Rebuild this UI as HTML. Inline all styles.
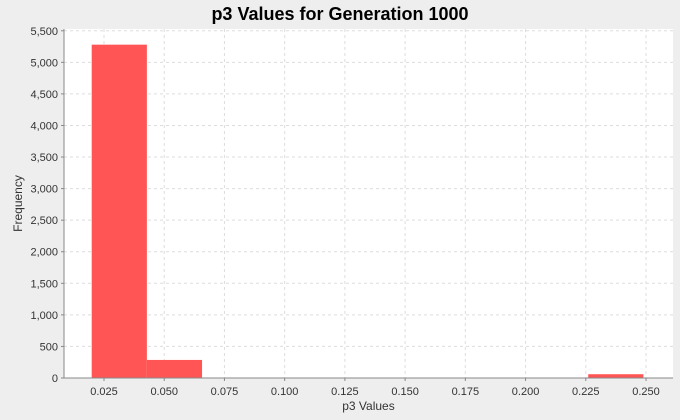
<!DOCTYPE html>
<html><head><meta charset="utf-8"><style>
body{margin:0;background:#eeeeee;}
svg{display:block;font-family:"Liberation Sans",sans-serif;}
</style></head><body>
<svg id="c" width="680" height="420"></svg>
<script>
const binStarts=[0.0199,0.0428,0.0657,0.0886,0.1115,0.1344,0.1573,0.1802,0.2031,0.2260];
const binWidth=0.0229;
const counts=[5280,286,0,0,0,0,0,0,0,60];
const xTicks=[0.025,0.050,0.075,0.100,0.125,0.150,0.175,0.200,0.225,0.250];
const yTicks=[0,500,1000,1500,2000,2500,3000,3500,4000,4500,5000,5500];
const L=64,R=673,T=29,B=378,xMin=0.0084,xMax=0.2612,yMax=5528;
const sx=v=>L+(v-xMin)/(xMax-xMin)*(R-L);
const sy=v=>B-v/yMax*(B-T);
const svg=document.getElementById('c');const NS='http://www.w3.org/2000/svg';
function mk(t,a,p){const e=document.createElementNS(NS,t);for(const k in a)e.setAttribute(k,a[k]);(p||svg).appendChild(e);return e;}
let e=mk('rect',{x:L,y:T,width:R-L,height:B-T,fill:'#fff'});


xTicks.forEach(t=>{const x=sx(t);
 let g=mk('line',{x1:x,x2:x,y1:T,y2:B,stroke:'#ddd','stroke-dasharray':'3,3'});
 
 
 mk('line',{x1:x,x2:x,y1:B,y2:B+3,stroke:'#888'});
 let l=mk('text',{x:x,y:B+17,'text-anchor':'middle','font-size':11,fill:'#333'});l.textContent=t.toFixed(3);
 
 
});
yTicks.forEach(t=>{const y=sy(t);
 let g=mk('line',{x1:L,x2:R,y1:y,y2:y,stroke:'#ddd','stroke-dasharray':'3,3'});
 
 
 mk('line',{x1:L-3,x2:L,y1:y,y2:y,stroke:'#888'});
 let l=mk('text',{x:L-6,y:y+4,'text-anchor':'end','font-size':11,fill:'#333'});l.textContent=t.toLocaleString('en-US');
 
 
});
counts.forEach((c,i)=>{if(c<=0)return;const x0=sx(binStarts[i]),x1=sx(binStarts[i]+binWidth);
 let b=mk('rect',{x:x0,y:sy(c),width:x1-x0,height:B-sy(c),fill:'#ff5555'});
 
 
});
mk('line',{x1:L,x2:L,y1:T,y2:B,stroke:'#888'});
mk('line',{x1:L,x2:R,y1:B,y2:B,stroke:'#888'});
let t=mk('text',{x:340,y:20,'text-anchor':'middle','font-size':18,'font-weight':'bold',fill:'#000'});t.textContent='p3 Values for Generation 1000';


let xl=mk('text',{x:(L+R)/2,y:410,'text-anchor':'middle','font-size':12,fill:'#333'});xl.textContent='p3 Values';


let yl=mk('text',{x:0,y:0,'text-anchor':'middle','font-size':12,fill:'#333',transform:'translate(22,'+((T+B)/2)+') rotate(-90)'});yl.textContent='Frequency';


</script>
</body></html>
